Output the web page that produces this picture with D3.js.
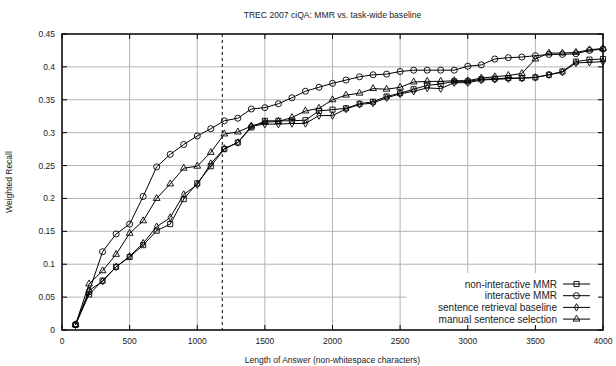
<!DOCTYPE html>
<html>
<head>
<meta charset="utf-8">
<script src="https://cdn.jsdelivr.net/npm/d3@7"></script>
<style>
  body { margin: 0; background: #fff; }
  svg text { font-family: "Liberation Sans", Arial, sans-serif; fill: #222; }
</style>
</head>
<body>
<svg id="chart" width="616" height="366"></svg>
<script>
// answer lengths 100 .. 4000
const lengths = [100, 200, 300, 400, 500, 600, 700, 800, 900, 1000,
  1100, 1200, 1300, 1400, 1500, 1600, 1700, 1800, 1900, 2000,
  2100, 2200, 2300, 2400, 2500, 2600, 2700, 2800, 2900, 3000,
  3100, 3200, 3300, 3400, 3500, 3600, 3700, 3800, 3900, 4000];

const nonInteractiveMMR = [0.008, 0.054, 0.075, 0.096, 0.111, 0.129, 0.151, 0.161, 0.199, 0.223,
  0.249, 0.275, 0.285, 0.308, 0.318, 0.318, 0.318, 0.319, 0.333, 0.335,
  0.337, 0.344, 0.347, 0.355, 0.360, 0.366, 0.372, 0.374, 0.378, 0.378,
  0.381, 0.382, 0.383, 0.383, 0.384, 0.388, 0.393, 0.408, 0.411, 0.412];

const interactiveMMR = [0.008, 0.058, 0.119, 0.146, 0.161, 0.203, 0.248, 0.267, 0.282, 0.295,
  0.306, 0.318, 0.322, 0.336, 0.338, 0.344, 0.353, 0.363, 0.369, 0.375,
  0.380, 0.385, 0.388, 0.389, 0.393, 0.395, 0.395, 0.395, 0.395, 0.401,
  0.403, 0.412, 0.414, 0.415, 0.417, 0.419, 0.419, 0.420, 0.425, 0.427];

const sentenceBaseline = [0.008, 0.060, 0.074, 0.096, 0.112, 0.132, 0.157, 0.171, 0.206, 0.221,
  0.253, 0.276, 0.285, 0.310, 0.313, 0.313, 0.314, 0.314, 0.326, 0.326,
  0.336, 0.343, 0.345, 0.353, 0.359, 0.363, 0.368, 0.367, 0.376, 0.376,
  0.380, 0.381, 0.382, 0.383, 0.384, 0.388, 0.392, 0.406, 0.407, 0.408];

const manualSelection = [0.008, 0.070, 0.090, 0.115, 0.147, 0.166, 0.200, 0.222, 0.246, 0.249,
  0.270, 0.298, 0.301, 0.310, 0.316, 0.317, 0.323, 0.333, 0.337, 0.350,
  0.357, 0.360, 0.367, 0.366, 0.369, 0.377, 0.378, 0.378, 0.379, 0.379,
  0.383, 0.385, 0.387, 0.390, 0.412, 0.421, 0.421, 0.422, 0.426, 0.428];

const seriesNames = ["non-interactive MMR", "interactive MMR", "sentence retrieval baseline", "manual sentence selection"];
const xTicks = [0, 500, 1000, 1500, 2000, 2500, 3000, 3500, 4000];
const yTicks = [0, 0.05, 0.1, 0.15, 0.2, 0.25, 0.3, 0.35, 0.4, 0.45];
const cutoffLength = 1185;

const series = [
  { name: seriesNames[0], values: nonInteractiveMMR, symbol: d3.symbolSquare, size: 26 },
  { name: seriesNames[1], values: interactiveMMR, symbol: d3.symbolCircle, size: 29 },
  { name: seriesNames[2], values: sentenceBaseline, symbol: d3.symbolDiamond, size: 16 },
  { name: seriesNames[3], values: manualSelection, symbol: d3.symbolTriangle, size: 20 },
];

const svg = d3.select("#chart");
const margin = { top: 34, right: 13, bottom: 36, left: 62 };
const width = 616 - margin.left - margin.right;
const height = 366 - margin.top - margin.bottom;

const x = d3.scaleLinear().domain([0, 4000]).range([0, width]);
const y = d3.scaleLinear().domain([0, 0.45]).range([height, 0]);

const g = svg.append("g").attr("transform", `translate(${margin.left},${margin.top})`);

// grid
g.append("g")
  .selectAll("line")
  .data(xTicks.slice(1, -1))
  .join("line")
  .attr("x1", (d) => x(d)).attr("x2", (d) => x(d))
  .attr("y1", 0).attr("y2", height)
  .attr("stroke", "#b4b4b4").attr("stroke-width", 1);
g.append("g")
  .selectAll("line")
  .data(yTicks.slice(1, -1))
  .join("line")
  .attr("x1", 0).attr("x2", width)
  .attr("y1", (d) => y(d)).attr("y2", (d) => y(d))
  .attr("stroke", "#b4b4b4").attr("stroke-width", 1);

// legend background hides grid underneath
const legX = 344, legY = 239;
g.append("rect")
  .attr("x", legX).attr("y", legY)
  .attr("width", width - legX).attr("height", height - legY)
  .attr("fill", "#fff");

// inward tick marks on all four sides
const tickLen = 5;
const tk = g.append("g").attr("stroke", "#000").attr("stroke-width", 1);
xTicks.forEach((d) => {
  tk.append("line").attr("x1", x(d)).attr("x2", x(d)).attr("y1", height).attr("y2", height - tickLen);
  tk.append("line").attr("x1", x(d)).attr("x2", x(d)).attr("y1", 0).attr("y2", tickLen);
});
yTicks.forEach((d) => {
  tk.append("line").attr("x1", 0).attr("x2", tickLen).attr("y1", y(d)).attr("y2", y(d));
  tk.append("line").attr("x1", width).attr("x2", width - tickLen).attr("y1", y(d)).attr("y2", y(d));
});

// tick labels
g.append("g")
  .selectAll("text")
  .data(xTicks)
  .join("text")
  .attr("x", (d) => x(d))
  .attr("y", height + 14)
  .attr("text-anchor", "middle")
  .attr("font-size", 8.5)
  .text((d) => d);
g.append("g")
  .selectAll("text")
  .data(yTicks)
  .join("text")
  .attr("x", -7)
  .attr("y", (d) => y(d) + 3)
  .attr("text-anchor", "end")
  .attr("font-size", 8.5)
  .text((d) => d3.format("~g")(d));

// dashed cutoff line
g.append("line")
  .attr("x1", x(cutoffLength)).attr("x2", x(cutoffLength))
  .attr("y1", 0).attr("y2", height)
  .attr("stroke", "#000").attr("stroke-width", 1)
  .attr("stroke-dasharray", "3,3");

// series
const line = d3.line().x((d) => x(d[0])).y((d) => y(d[1]));
series.forEach((s) => {
  const pts = lengths.map((l, i) => [l, s.values[i]]);
  g.append("path")
    .datum(pts)
    .attr("d", line)
    .attr("fill", "none")
    .attr("stroke", "#000")
    .attr("stroke-width", 1);
  g.append("g")
    .selectAll("path")
    .data(pts)
    .join("path")
    .attr("transform", (d) => `translate(${x(d[0])},${y(d[1])})`)
    .attr("d", d3.symbol().type(s.symbol).size(s.size))
    .attr("fill", "none")
    .attr("stroke", "#000")
    .attr("stroke-width", 0.9);
});

// legend
const legend = g.append("g");
series.forEach((s, i) => {
  const ly = 250 + i * 11.7;
  legend.append("text")
    .attr("x", 495).attr("y", ly + 3.5)
    .attr("text-anchor", "end")
    .attr("font-size", 10)
    .text(s.name);
  legend.append("line")
    .attr("x1", 501).attr("x2", 528)
    .attr("y1", ly).attr("y2", ly)
    .attr("stroke", "#000").attr("stroke-width", 1);
  legend.append("path")
    .attr("transform", `translate(514.5,${ly})`)
    .attr("d", d3.symbol().type(s.symbol).size(s.size))
    .attr("fill", "none").attr("stroke", "#000").attr("stroke-width", 0.9);
});

// frame
g.append("rect")
  .attr("width", width).attr("height", height)
  .attr("fill", "none").attr("stroke", "#000").attr("stroke-width", 1.5);

// titles
svg.append("text")
  .attr("x", margin.left + width / 2).attr("y", 18)
  .attr("text-anchor", "middle")
  .attr("font-size", 8.6)
  .text("TREC 2007 ciQA: MMR vs. task-wide baseline");
svg.append("text")
  .attr("x", margin.left + width / 2).attr("y", 363)
  .attr("text-anchor", "middle")
  .attr("font-size", 8.5)
  .text("Length of Answer (non-whitespace characters)");
svg.append("text")
  .attr("transform", `translate(12,${margin.top + height / 2}) rotate(-90)`)
  .attr("text-anchor", "middle")
  .attr("font-size", 8.5)
  .text("Weighted Recall");
</script>
</body>
</html>
